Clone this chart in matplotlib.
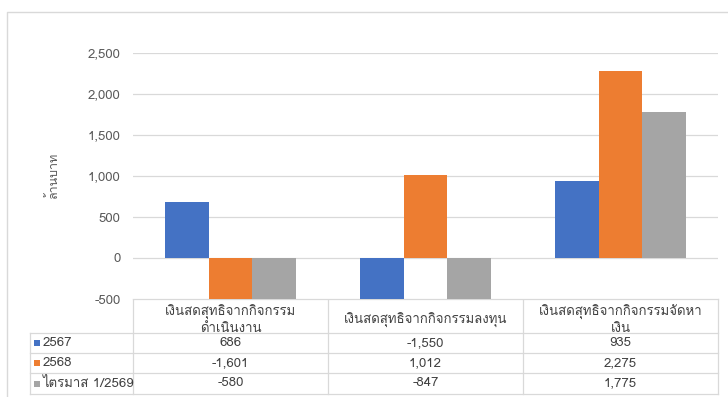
import numpy as np
import matplotlib
matplotlib.use('Agg')
import matplotlib.pyplot as plt
from matplotlib import font_manager
from matplotlib.ft2font import FT2Font
from matplotlib.patches import Rectangle

categories = ['เงินสดสุทธิจากกิจกรรม\nดำเนินงาน', 'เงินสดสุทธิจากกิจกรรมลงทุน', 'เงินสดสุทธิจากกิจกรรมจัดหา\nเงิน']
series_names = ['2567', '2568', 'ไตรมาส 1/2569']
values_2567 = [686, -1550, 935]
values_2568 = [-1601, 1012, 2275]
values_q1_2569 = [-580, -847, 1775]
colors = ['#4472C4', '#ED7D31', '#A5A5A5']
y_ticks = [-500, 0, 500, 1000, 1500, 2000, 2500]


# find an installed font that has Thai glyphs
def thai_font():
    for f in font_manager.fontManager.ttflist:
        try:
            if FT2Font(f.fname).get_char_index(ord('ก')):
                return f.name
        except Exception:
            pass
    return 'DejaVu Sans'


thai = thai_font()
plt.rcParams['font.family'] = [thai, 'DejaVu Sans']

W, H = 728, 397
fig = plt.figure(figsize=(W / 100, H / 100), dpi=100)

# plot area in pixels
left, right, top, bottom = 133, 718, 53, 299
ax = fig.add_axes([left / W, 1 - bottom / H, (right - left) / W, (bottom - top) / H])

all_values = [values_2567, values_2568, values_q1_2569]
x = np.arange(len(categories))
bw = 0.225
for i, vals in enumerate(all_values):
    ax.bar(x + (i - 1) * bw, vals, bw, color=colors[i], zorder=3)

ax.set_xlim(-0.5, len(categories) - 0.5)
ax.set_ylim(-500, 2500)
ax.set_yticks(y_ticks)
ax.set_yticklabels(['{:,}'.format(v) for v in y_ticks], color='#595959', fontsize=9.5)
ax.set_xticks([])
ax.tick_params(axis='y', length=0, pad=9)
ax.grid(axis='y', color='#d9d9d9', lw=0.9, zorder=0)
for s in ax.spines.values():
    s.set_visible(False)
ax.set_ylabel('ล้านบาท', fontsize=9, color='#595959', labelpad=20)

# overlay for the data table and chart border, pixel coordinates
ov = fig.add_axes([0, 0, 1, 1], zorder=-1)
ov.set_xlim(0, W)
ov.set_ylim(H, 0)
ov.axis('off')

ov.plot([7, 7, W + 5], [H + 5, 12, 12], color='#d9d9d9', lw=1)

lc = '#d9d9d9'
tleft = 30
rows = [333, 353, 373, 394]
col_w = (right - left) / len(categories)
cols = [left + k * col_w for k in range(len(categories) + 1)]
ov.plot([left, right], [bottom, bottom], color=lc, lw=0.9)
for y in rows:
    ov.plot([tleft, right], [y, y], color=lc, lw=0.9)
for cx in cols:
    ov.plot([cx, cx], [bottom, rows[-1]], color=lc, lw=0.9)
ov.plot([tleft, tleft], [rows[0], rows[-1]], color=lc, lw=0.9)

tc = '#404040'
for k, cat in enumerate(categories):
    ov.text((cols[k] + cols[k + 1]) / 2, 320, cat, ha='center', va='center',
            fontsize=9.5, color=tc, linespacing=1.25)
for i, name in enumerate(series_names):
    yc = (rows[i] + rows[i + 1]) / 2
    ov.add_patch(Rectangle((tleft + 4, yc - 3), 6, 6, color=colors[i], lw=0))
    ov.text(tleft + 13, yc, name, ha='left', va='center', fontsize=9.5, color=tc)
    for k, v in enumerate(all_values[i]):
        ov.text((cols[k] + cols[k + 1]) / 2, yc, '{:,}'.format(v), ha='center', va='center',
                fontsize=9.5, color=tc)

fig.savefig('out.png', dpi=100, facecolor='white')
